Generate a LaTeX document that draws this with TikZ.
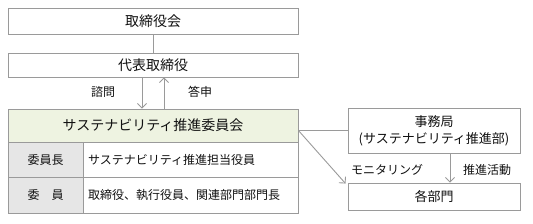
\documentclass[tikz,border=0pt]{standalone}
\usepackage{fontspec}
\setmainfont{Noto Sans CJK JP}
\usetikzlibrary{arrows.meta}
\definecolor{bordc}{HTML}{9A9A9A}
\definecolor{txtc}{HTML}{111111}
\definecolor{hdrg}{HTML}{EEF3E1}
\definecolor{cellg}{HTML}{E6E6E6}
\tikzset{
  box/.style={draw=bordc, line width=0.9pt, fill=white, text=txtc, inner sep=0pt, anchor=center, align=center},
  lbl/.style={text=txtc, inner sep=0pt, font=\fontsize{12}{14}\selectfont},
  conn/.style={draw=bordc, line width=0.9pt},
  arr/.style={conn, -{Straight Barb[length=4.5pt,width=9pt]}},
}
\begin{document}
\begin{tikzpicture}[x=1pt,y=-1pt]
\useasboundingbox (0,0) rectangle (533,223);
\node[box, minimum width=290pt, minimum height=26pt, font=\fontsize{14}{16}\selectfont] (bod) at (153,21.5) {取締役会};
\node[box, minimum width=290pt, minimum height=24pt, font=\fontsize{14}{16}\selectfont] (ceo) at (153,65) {代表取締役};
\node[box, fill=hdrg, minimum width=290pt, minimum height=33pt, font=\fontsize{14}{16}\selectfont] (com) at (153,125.5) {サステナビリティ推進委員会};
\node[box, fill=cellg, minimum width=75pt, minimum height=35pt, font=\fontsize{12}{14}\selectfont] (r1a) at (45.5,159.5) {委員長};
\node[box, minimum width=215pt, minimum height=35pt, font=\fontsize{12}{14}\selectfont, text width=205pt, align=left] (r1b) at (190.5,159.5) {サステナビリティ推進担当役員};
\node[box, fill=cellg, minimum width=75pt, minimum height=36pt, font=\fontsize{12}{14}\selectfont] (r2a) at (45.5,195) {委\hspace{1em}員};
\node[box, minimum width=215pt, minimum height=36pt, font=\fontsize{12}{14}\selectfont, text width=205pt, align=left] (r2b) at (190.5,195) {取締役、執行役員、関連部門部門長};
\node[box, minimum width=172pt, minimum height=45pt, font=\fontsize{13}{17}\selectfont] (jim) at (434,130.5) {事務局\\(サステナビリティ推進部)};
\node[box, minimum width=172pt, minimum height=27pt, font=\fontsize{13}{15}\selectfont] (dep) at (434,196.5) {各部門};
\draw[conn] (bod.south) -- (ceo.north);
\draw[arr] (ceo.south -| 142,0) -- (com.north -| 142,0);
\draw[arr] (com.north -| 164,0) -- (ceo.south -| 164,0);
\node[lbl] (l1) at (103,92) {諮問};
\node[lbl] (l2) at (200,92) {答申};
\coordinate (cr) at (com.east |- jim.west);
\draw[conn] (cr) -- (jim.west);
\draw[arr] (cr) -- ([shift={(-2pt,-1pt)}]dep.north west);
\draw[arr] (jim.south -| 450,0) -- (dep.north -| 450,0);
\node[lbl] (l3) at (387,170) {モニタリング};
\node[lbl] (l4) at (487,170) {推進活動};
\end{tikzpicture}
\end{document}
